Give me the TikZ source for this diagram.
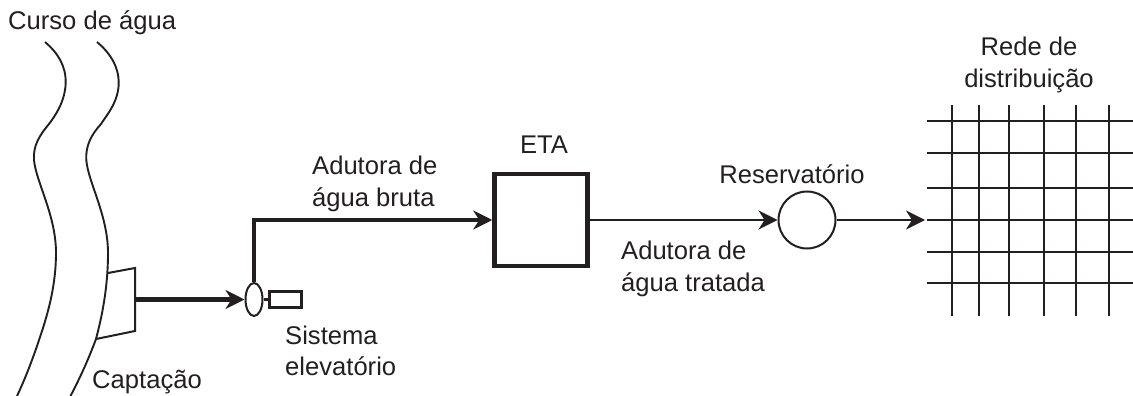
\documentclass[tikz,border=0pt]{standalone}
\usepackage{fontspec}
\setmainfont{Liberation Sans}
\usetikzlibrary{arrows.meta,shapes.geometric}
\definecolor{ink}{HTML}{231F20}
\tikzset{
  x=1pt,y=-1pt,
  every path/.style={color=ink},
  lbl/.style={font=\fontsize{25.6}{34}\selectfont,text=ink,inner sep=0pt,align=center},
  tip/.style={-{Stealth[length=19pt,width=19pt,inset=6pt]}},
  thin line/.style={line width=2pt},
  thick line/.style={line width=4.8pt},
  grid line/.style={line width=2pt},
  bank/.style={line width=1.9pt},
}
\begin{document}
\begin{tikzpicture}
\useasboundingbox (0,0) rectangle (1133,396);
% river banks
\draw[bank] (45,42) .. controls (58,53) and (66,66) .. (65.7,83) .. controls (65,102) and (55,116) .. (49,124) .. controls (39,136) and (33,146) .. (34,160) .. controls (36,182) and (56,215) .. (56,253) .. controls (56,285) and (48,312) .. (43,328) .. controls (36,350) and (27,375) .. (17,396);
\draw[bank] (97,42) .. controls (110,53) and (118.7,66) .. (118.7,83) .. controls (118.7,102) and (106,116) .. (101,124) .. controls (91,135) and (85.5,146) .. (86.3,160) .. controls (88,182) and (108,215) .. (108,253) .. controls (108,290) and (101,320) .. (96,339) .. controls (89,358) and (80,378) .. (70.5,396);
% intake
\coordinate (capA) at (108,273);
\coordinate (capD) at (96,339);
\node[inner sep=0pt,minimum size=0pt] (capOut) at (135,299.5) {};
\draw[line width=2pt,line join=miter] (capA) -- (135,268) -- (135,331) -- (capD);
% pump
\node[draw=ink,ellipse,line width=2pt,minimum width=17pt,minimum height=33pt,inner sep=0pt] (pump) at (254,299.5) {};
\node[draw=ink,rectangle,line width=2.2pt,minimum width=32pt,minimum height=16pt,inner sep=0pt] (motor) at (285.5,299.5) {};
\draw[line width=3pt] (pump.east) -- (motor.west);
\draw[thick line,tip] (capOut) -- (pump.west);
% ETA
\node[draw=ink,rectangle,line width=4.5pt,minimum width=93pt,minimum height=92pt,inner sep=0pt] (eta) at (541,220) {};
\draw[thick line,tip,line join=miter] (pump.north) -- (254,220) -- (eta.west);
% reservoir
\node[draw=ink,circle,line width=2pt,minimum size=57pt,inner sep=0pt] (res) at (807,220) {};
\draw[thin line,tip] (eta.east) -- (res.west);
\coordinate (netIn) at (925,220);
\draw[thin line,tip] (res.east) -- (netIn);
% network grid
\foreach \gx in {951.7,978.7,1009,1044,1075.7,1109}
  \draw[grid line] (\gx,105) -- (\gx,316);
\foreach \gy in {121.3,152.7,187.7,220.3,251.7,283}
  \draw[grid line] (926.7,\gy) -- (1133,\gy);
% labels
\node[lbl,anchor=base west] (t1) at (8,30) {Curso de água};
\node[lbl,anchor=base west] (t2) at (92,388) {Captação};
\node[lbl,anchor=base west] (t3a) at (285,344) {Sistema};
\node[lbl,anchor=base west] (t3b) at (285,375) {elevatório};
\node[lbl,anchor=base west] (t4a) at (312,174) {Adutora de};
\node[lbl,anchor=base west] (t4b) at (312,206) {água bruta};
\node[lbl,anchor=base] (t5) at (544,153.5) {ETA};
\node[lbl,anchor=base] (t6) at (792,183.5) {Reservatório};
\node[lbl,anchor=base west] (t7a) at (621,259) {Adutora de};
\node[lbl,anchor=base west] (t7b) at (621,291) {água tratada};
\node[lbl,anchor=base] (t8a) at (1029,56) {Rede de};
\node[lbl,anchor=base] (t8b) at (1029,88) {distribuição};
\end{tikzpicture}
\end{document}
